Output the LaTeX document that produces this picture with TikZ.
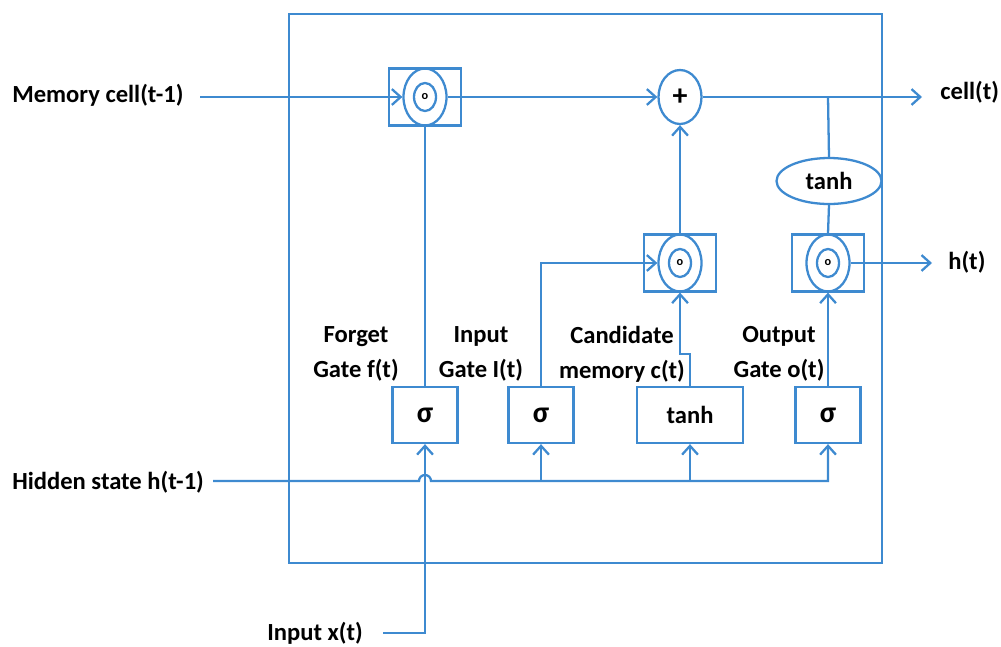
\documentclass[tikz,border=0pt]{standalone}
\usepackage{fontspec}
\setmainfont{Carlito}
\usetikzlibrary{shapes.geometric,arrows.meta,calc}
\definecolor{lb}{RGB}{62,138,208}
\begin{document}
\begin{tikzpicture}[x=0.02cm,y=-0.02cm,
  every node/.style={font=\fontsize{14}{20}\selectfont\bfseries},
  wire/.style={draw=lb,line width=1.3pt},
  arr/.style={wire,-{Straight Barb[length=5pt,width=9pt,line width=1.3pt]}},
  mbox/.style={draw=lb,line width=1.3pt,minimum width=1.44cm,minimum height=1.14cm,inner sep=0pt},
  mell/.style={ellipse,draw=lb,line width=1.3pt,minimum width=0.86cm,minimum height=1.14cm,inner sep=0pt},
  mink/.style={ellipse,draw=lb,line width=1.3pt,minimum width=0.44cm,minimum height=0.56cm,inner sep=0pt,font=\fontsize{7}{7}\selectfont\bfseries},
  gbox/.style={draw=lb,line width=1.3pt,minimum width=1.3cm,minimum height=1.12cm,inner sep=0pt},
  big/.style={font=\fontsize{17}{20}\selectfont\bfseries},
  lbl/.style={anchor=west,inner sep=0pt},
  glbl/.style={align=center,inner sep=0pt}]
\useasboundingbox (0,0) rectangle (1001,646);
% cell frame
\draw[wire] (289,14) rectangle (882,563);
% multiply units
\node[mbox] (fbox) at (425,97) {};
\node[mell] (fe) at (425,97) {};
\node[mink] (fi) at (425,97) {o};
\node[mbox] (cbox) at (680,263) {};
\node[mell] (ce) at (680,263) {};
\node[mink] (ci) at (680,263) {o};
\node[mbox] (obox) at (828,263) {};
\node[mell] (oe) at (828,263) {};
\node[mink] (oi) at (828,263) {o};
% plus
\node[ellipse,draw=lb,line width=1.3pt,minimum width=0.86cm,minimum height=1.08cm,inner sep=0pt,big] (plus) at (680,97) {+};
% tanh ellipse
\node[ellipse,draw=lb,line width=1.3pt,minimum width=2.1cm,minimum height=0.92cm,inner sep=0pt] (th) at (829,181) {tanh};
% gate boxes
\node[gbox,big] (fs) at (425,415) {σ};
\node[gbox,big] (is) at (541,415) {σ};
\node[gbox,minimum width=2.12cm] (ct) at (690,415) {tanh};
\node[gbox,big] (os) at (828,415) {σ};
% labels
\node[lbl] (mc) at (12,95) {Memory cell(t-1)};
\node[lbl] (hs) at (12,482) {Hidden state h(t-1)};
\node[lbl] (ix) at (267,633) {Input x(t)};
\node[lbl] (cout) at (940,92) {cell(t)};
\node[lbl] (hout) at (948,262) {h(t)};
\node[glbl] (lf) at (356,354) {Forget\\Gate f(t)};
\node[glbl] (li) at (481,354) {Input\\Gate I(t)};
\node[glbl] (lc) at (622,354) {Candidate\\memory c(t)};
\node[glbl] (lo) at (779,354) {Output\\Gate o(t)};
% coordinates
\coordinate (m0) at (200,97);
\coordinate (c1) at (922,97);
\coordinate (j1) at (828,97);
\coordinate (h1) at (932,263);
\coordinate (h0) at (213,481);
\coordinate (hopL) at (419,481);
\coordinate (x0) at (383,633);
% connectors
\draw[arr] (m0) -- (fe.west);
\draw[arr] (fe.east) -- (plus.west);
\draw[arr] (plus.east) -- (c1);
\draw[wire] (j1) -- (th.north);
\draw[wire] (th.south) -- (obox.north);
\draw[arr] (oe.east) -- (h1);
\draw[arr] (cbox.north) -- (plus.south);
\draw[arr] (is.north) |- (ce.west);
\draw[arr] (ct.north) -- ++(0,-32) -| (ce.south);
\draw[wire] (fs.north) -- (fe.south);
\draw[arr] (os.north) -- (oe.south);
\draw[arr] (h0) -- (hopL) arc[start angle=180,end angle=0,radius=0.12cm] -| (os.south);
\draw[arr] (is.south |- h0) -- (is.south);
\draw[arr] (ct.south |- h0) -- (ct.south);
\draw[arr] (x0) -| (fs.south);
\end{tikzpicture}
\end{document}
